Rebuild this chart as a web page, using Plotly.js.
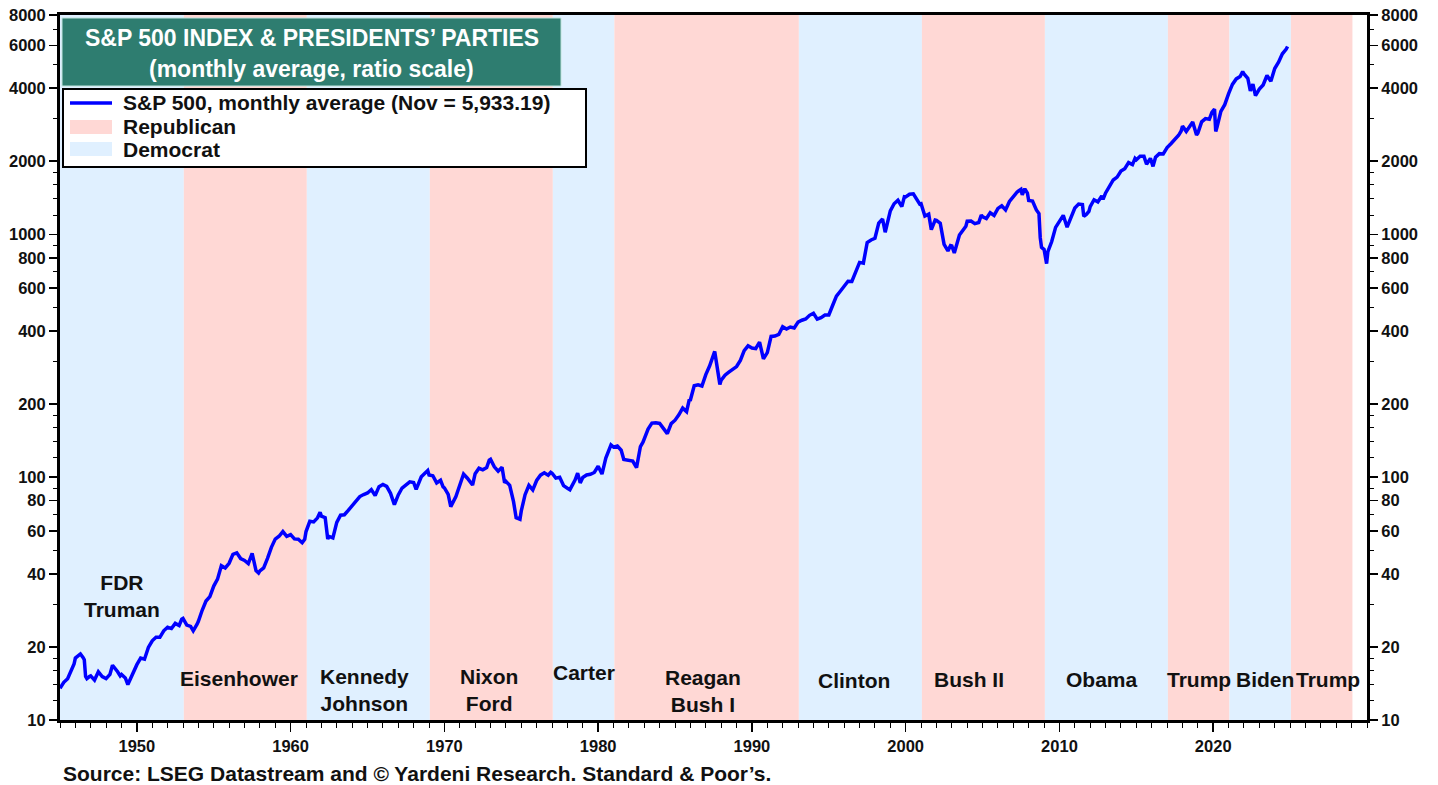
<!DOCTYPE html>
<html><head><meta charset="utf-8">
<script src="https://cdn.plot.ly/plotly-3.0.1.min.js"></script>
<style>html,body{margin:0;padding:0;background:#fff}#chart{width:1438px;height:785px}</style>
</head><body><div id="chart"></div><script>
// ---- DATA ----
const months = [
'1945-01','1945-04','1945-07','1945-10','1945-12',
'1946-01','1946-05','1946-07','1946-08','1946-09','1946-10','1946-12',
'1947-01','1947-04','1947-07','1947-10',
'1948-01','1948-04','1948-06','1948-10','1948-12',
'1949-01','1949-04','1949-06','1949-10','1949-12',
'1950-01','1950-04','1950-07','1950-10',
'1951-01','1951-04','1951-07','1951-10',
'1952-01','1952-04','1952-07','1952-10','1952-12',
'1953-01','1953-04','1953-07','1953-09','1953-12',
'1954-01','1954-04','1954-07','1954-10','1954-12',
'1955-01','1955-04','1955-07','1955-10',
'1956-01','1956-04','1956-07','1956-10',
'1957-01','1957-04','1957-07','1957-10','1957-12',
'1958-01','1958-04','1958-07','1958-10',
'1959-01','1959-04','1959-07','1959-10',
'1960-01','1960-04','1960-07','1960-10','1960-12',
'1961-01','1961-04','1961-07','1961-10','1961-12',
'1962-01','1962-04','1962-06','1962-07','1962-10','1962-12',
'1963-01','1963-04','1963-07','1963-10',
'1964-01','1964-04','1964-07','1964-10',
'1965-01','1965-04','1965-07','1965-10',
'1966-01','1966-04','1966-07','1966-10',
'1967-01','1967-04','1967-07','1967-10',
'1968-01','1968-03','1968-07','1968-10','1968-12',
'1969-01','1969-04','1969-07','1969-10','1969-12',
'1970-01','1970-04','1970-06','1970-10','1970-12',
'1971-01','1971-04','1971-07','1971-11',
'1972-01','1972-04','1972-07','1972-10','1972-12',
'1973-01','1973-04','1973-07','1973-10','1973-12',
'1974-01','1974-04','1974-07','1974-09','1974-12',
'1975-01','1975-04','1975-07','1975-10',
'1976-01','1976-04','1976-07','1976-10','1976-12',
'1977-01','1977-04','1977-07','1977-10',
'1978-01','1978-03','1978-07','1978-09','1978-11',
'1979-01','1979-04','1979-07','1979-10',
'1980-01','1980-04','1980-07','1980-11',
'1981-01','1981-04','1981-07','1981-09',
'1982-01','1982-04','1982-07','1982-10','1982-12',
'1983-01','1983-04','1983-07','1983-10',
'1984-01','1984-04','1984-07','1984-10',
'1985-01','1985-04','1985-07','1985-10','1985-12',
'1986-01','1986-04','1986-07','1986-10',
'1987-01','1987-04','1987-08','1987-10','1987-12',
'1988-01','1988-04','1988-07','1988-10',
'1989-01','1989-04','1989-07','1989-10',
'1990-01','1990-04','1990-07','1990-10',
'1991-01','1991-04','1991-07','1991-10',
'1992-01','1992-04','1992-07','1992-10',
'1993-01','1993-04','1993-07','1993-10',
'1994-01','1994-04','1994-07','1994-10',
'1995-01','1995-04','1995-07','1995-10',
'1996-01','1996-04','1996-07','1996-10',
'1997-01','1997-04','1997-07','1997-10',
'1998-01','1998-04','1998-07','1998-09','1998-12',
'1999-01','1999-04','1999-07','1999-10','1999-12',
'2000-01','2000-04','2000-07','2000-10','2000-12',
'2001-01','2001-04','2001-07','2001-09','2001-12',
'2002-01','2002-04','2002-07','2002-10','2002-12',
'2003-01','2003-03','2003-07','2003-10','2003-12',
'2004-01','2004-04','2004-07','2004-10','2004-12',
'2005-01','2005-04','2005-07','2005-10','2005-12',
'2006-01','2006-04','2006-07','2006-10',
'2007-01','2007-04','2007-07','2007-08','2007-10','2007-12',
'2008-01','2008-04','2008-07','2008-09','2008-10','2008-11',
'2009-01','2009-03','2009-04','2009-07','2009-10','2009-12',
'2010-01','2010-04','2010-07','2010-10','2010-12',
'2011-01','2011-04','2011-07','2011-08','2011-10','2011-12',
'2012-01','2012-04','2012-07','2012-10','2012-11',
'2013-01','2013-04','2013-07','2013-10','2013-12',
'2014-01','2014-04','2014-07','2014-10','2014-12',
'2015-01','2015-04','2015-07','2015-09','2015-12',
'2016-02','2016-04','2016-07','2016-10','2016-12',
'2017-01','2017-04','2017-07','2017-10','2017-12',
'2018-01','2018-04','2018-07','2018-09','2018-12',
'2019-01','2019-04','2019-07','2019-10','2019-12',
'2020-02','2020-03','2020-04','2020-07','2020-10','2020-12',
'2021-01','2021-04','2021-07','2021-10','2021-12',
'2022-01','2022-04','2022-06','2022-08','2022-10','2022-12',
'2023-01','2023-04','2023-07','2023-10','2023-12',
'2024-01','2024-04','2024-07','2024-10','2024-11'
];
const sp500 = [
13.5,14.3,14.8,16.0,17.0,
18.0,18.7,18.1,17.7,15.1,14.8,15.1,
15.2,14.6,15.8,15.1,
14.8,15.4,16.8,15.8,15.2,
15.4,14.9,14.0,15.7,16.5,
16.9,18.0,17.8,19.9,
21.2,21.9,21.9,23.3,
24.1,23.8,25.0,24.5,26.0,
26.2,24.6,24.3,23.3,24.8,
25.5,28.3,30.9,32.2,34.9,
35.6,38.0,43.2,42.3,
44.2,48.1,48.8,46.2,
45.4,44.1,48.5,41.2,40.3,
41.1,42.3,46.3,51.4,
55.6,57.1,59.7,57.0,
58.0,55.7,55.5,53.7,55.5,
59.7,65.8,65.4,68.0,71.7,
69.1,68.1,55.6,57.0,56.2,62.6,
65.1,69.7,70.0,73.0,
76.5,79.5,83.2,84.8,
86.1,88.9,84.1,91.4,
93.3,91.6,85.8,77.1,
84.5,90.2,93.0,95.7,
95.0,89.1,100.3,103.8,106.5,
102.0,101.3,94.7,97.1,91.1,
90.3,85.0,75.6,83.2,90.1,
93.5,103.0,99.0,92.8,
103.3,108.8,107.2,109.6,117.5,
118.4,110.3,105.8,109.8,94.8,
96.1,92.5,79.3,68.1,67.1,
72.6,84.7,92.5,88.6,
96.9,101.9,104.2,101.9,104.7,
103.8,99.1,99.9,92.3,
90.1,88.8,97.2,103.9,94.7,
99.7,102.1,102.7,104.5,
110.9,103.0,119.8,135.7,
133.0,134.4,129.1,118.3,
117.3,116.4,109.4,133.7,139.4,
144.3,157.7,167.0,167.6,
166.4,157.4,151.1,166.1,
171.6,180.6,192.5,186.2,207.3,
208.2,238.0,240.2,237.4,
264.5,286.8,329.4,280.2,241.0,
250.5,263.0,270.7,279.4,
285.4,302.3,331.9,347.4,
340.0,338.2,360.0,307.1,
325.5,379.7,380.9,386.9,
416.1,407.4,415.1,411.7,
435.2,442.7,448.1,463.9,
473.0,447.2,453.9,465.0,
465.3,509.2,556.8,582.9,
614.4,641.0,640.0,701.5,
766.2,761.1,925.3,947.3,
963.4,1112.2,1156.6,1020.0,1190.0,
1248.8,1335.6,1381.0,1300.0,1428.0,
1425.6,1461.4,1468.4,1390.1,1330.0,
1335.6,1189.8,1211.2,1044.6,1144.0,
1140.2,1111.6,909.9,854.6,899.0,
895.8,837.6,993.3,1038.7,1080.0,
1132.5,1134.1,1105.8,1118.1,1199.0,
1181.4,1162.4,1227.0,1196.7,1258.0,
1278.7,1310.6,1260.2,1365.6,
1424.2,1494.1,1530.6,1455.0,1539.7,1479.0,
1378.8,1370.5,1260.2,1217.0,968.8,883.0,
865.6,757.1,848.2,934.1,1067.7,1110.0,
1123.6,1197.3,1070.0,1171.6,1241.0,
1282.6,1331.5,1325.2,1185.0,1207.2,1243.0,
1300.6,1387.6,1359.8,1437.8,1394.0,
1480.4,1572.9,1674.0,1720.0,1807.0,
1822.4,1864.3,1973.1,1937.3,2054.0,
2028.2,2094.9,2094.1,1944.0,2054.0,
1904.0,2075.5,2148.9,2143.0,2246.0,
2275.1,2359.3,2454.1,2557.0,2664.0,
2789.8,2653.6,2793.6,2901.0,2567.0,
2607.4,2903.8,2996.1,2977.7,3176.0,
3277.0,2652.4,2762.0,3207.6,3418.7,3695.0,
3793.7,4141.2,4363.7,4460.7,4674.0,
4573.8,4391.3,3898.9,4158.0,3726.1,3912.0,
3960.7,4121.5,4508.1,4269.4,4685.0,
4815.6,5112.5,5538.0,5792.3,5933.19
];
const termStarts = ['1945-01-01','1953-01-20','1961-01-20','1969-01-20','1977-01-20','1981-01-20','1993-01-20','2001-01-20','2009-01-20','2017-01-20','2021-01-20','2025-01-20'];
const termEnds   = ['1953-01-20','1961-01-20','1969-01-20','1977-01-20','1981-01-20','1993-01-20','2001-01-20','2009-01-20','2017-01-20','2021-01-20','2025-01-20','2029-01-20'];
const termParty  = ['D','R','D','R','D','R','D','R','D','R','D','R'];
const presidentLabels = ['FDR<br>Truman','Eisenhower','Kennedy<br>Johnson','Nixon<br>Ford','Carter','Reagan<br>Bush I','Clinton','Bush II','Obama','Trump','Biden','Trump'];
const xTickVals = ['1950-01-01','1960-01-01','1970-01-01','1980-01-01','1990-01-01','2000-01-01','2010-01-01','2020-01-01'];
const xTickText = ['1950','1960','1970','1980','1990','2000','2010','2020'];
const yTickVals = [10,20,40,60,80,100,200,400,600,800,1000,2000,4000,6000,8000];
const yTickText = ['10','20','40','60','80','100','200','400','600','800','1000','2000','4000','6000','8000'];
const yMinorVals = [12,14,16,18,30,50,70,90,120,140,160,180,300,500,700,900,1200,1400,1600,1800,3000,5000,7000];
const seriesName = 'S&P 500, monthly average (Nov = 5,933.19)';
const legendNames = [seriesName, 'Republican', 'Democrat'];

// ---- STYLE ----
const FONT = 'Liberation Sans, Arial, sans-serif';
const REP = '#FFD8D5';
const DEM = '#E0F0FF';
const LINE = '#0000FF';
const labelYpx = [596,678,690,690,672,691,680,679,679,679,679,679];
const labelShift = [0,-6,-4,-2,0,-4,-6,-14,-4,0,5,6];
const plotTop = 15, plotBottom = 720, plotLeft = 60, plotRight = 1367;
const pY = px => (plotBottom - px) / (plotBottom - plotTop);
const pX = px => (px - plotLeft) / (plotRight - plotLeft);

function midDate(a, b) {
  const t = (new Date(a).getTime() + new Date(b).getTime()) / 2;
  return new Date(t).toISOString().slice(0, 10);
}

const shapes = termStarts.map((s, i) => ({
  type: 'rect', xref: 'x', yref: 'paper', x0: s, x1: termEnds[i], y0: 0, y1: 1,
  fillcolor: termParty[i] === 'R' ? REP : DEM, line: {width: 0}, layer: 'below'
}));
// title box
shapes.push({type:'rect', xref:'paper', yref:'paper', x0:pX(62), x1:pX(561), y0:pY(86), y1:pY(18),
  fillcolor:'#2E7D70', line:{color:'#BFE3DC', width:1}, layer:'above'});
// legend box and swatches
shapes.push({type:'rect', xref:'paper', yref:'paper', x0:pX(63), x1:pX(586), y0:pY(167), y1:pY(89),
  fillcolor:'#fff', line:{color:'#000', width:2}, layer:'above'});
shapes.push({type:'line', xref:'paper', yref:'paper', x0:pX(70), x1:pX(112), y0:pY(103), y1:pY(103),
  line:{color:LINE, width:3.5}, layer:'above'});
shapes.push({type:'rect', xref:'paper', yref:'paper', x0:pX(70), x1:pX(112), y0:pY(134), y1:pY(120),
  fillcolor:REP, line:{width:0}, layer:'above'});
shapes.push({type:'rect', xref:'paper', yref:'paper', x0:pX(70), x1:pX(112), y0:pY(156), y1:pY(142),
  fillcolor:DEM, line:{width:0}, layer:'above'});

const annotations = presidentLabels.map((t, i) => ({
  text: t, x: midDate(termStarts[i], termEnds[i]), xref: 'x', y: pY(labelYpx[i]), yref: 'paper',
  xanchor: 'center', yanchor: 'middle', showarrow: false, xshift: labelShift[i],
  font: {family: FONT, size: 21, color: '#111', weight: 'bold'}
}));
const legendRowY = [103, 126, 149];
legendNames.forEach((n, i) => annotations.push({text: n, xref:'paper', yref:'paper',
  x:pX(121), y:pY(legendRowY[i]), xanchor:'left', yanchor:'middle', showarrow:false,
  font:{family:FONT, size:21, color:'#111', weight:'bold'}}));
annotations.push({text:'S&P 500 INDEX & PRESIDENTS\u2019 PARTIES', xref:'paper', yref:'paper',
  x:pX(311.5), y:pY(38), xanchor:'center', yanchor:'middle', showarrow:false,
  font:{family:FONT, size:23, color:'#fff', weight:'bold'}});
annotations.push({text:'(monthly average, ratio scale)', xref:'paper', yref:'paper',
  x:pX(311.5), y:pY(69), xanchor:'center', yanchor:'middle', showarrow:false,
  font:{family:FONT, size:23, color:'#fff', weight:'bold'}});
annotations.push({text:'Source: LSEG Datastream and \u00a9 Yardeni Research. Standard & Poor\u2019s.', xref:'paper', yref:'paper',
  x:pX(61), y:pY(773), xanchor:'left', yanchor:'middle', showarrow:false,
  font:{family:FONT, size:21, color:'#111', weight:'bold'}});

const traces = [
  {x: months, y: sp500, type: 'scatter', mode: 'lines', name: seriesName,
   line: {color: LINE, width: 3.5}},
  {x: [null], y: [null], type: 'scatter', mode: 'lines', yaxis: 'y2', showlegend: false, hoverinfo: 'skip'}
];

const tickFont = {family: FONT, size: 16.5, color: '#111', weight: 'bold'};
const yCommon = {
  type: 'log', range: [1, Math.log10(8000)], tickmode: 'array', tickvals: yTickVals, ticktext: yTickText,
  ticks: 'outside', ticklen: 8, tickwidth: 1.5, tickcolor: '#000', showgrid: false, zeroline: false,
  showline: true, linecolor: '#000', linewidth: 3, tickfont: tickFont, fixedrange: true,
  minor: {tickmode: 'array', tickvals: yMinorVals, ticks: 'outside', ticklen: 4, tickwidth: 1, tickcolor: '#000', showgrid: false}
};

const layout = {
  width: 1438, height: 785,
  margin: {l: plotLeft, r: 1438 - plotRight, t: plotTop, b: 785 - plotBottom, pad: 0},
  paper_bgcolor: '#fff', plot_bgcolor: '#fff',
  font: {family: FONT, color: '#111'},
  showlegend: false,
  xaxis: {type: 'date', range: ['1945-01-01', '2030-01-01'], tickmode: 'array', tickvals: xTickVals, ticktext: xTickText,
    ticks: 'outside', ticklen: 9, tickwidth: 1.5, tickcolor: '#000',
    showline: true, mirror: true, linecolor: '#000', linewidth: 3, showgrid: false, zeroline: false,
    tickfont: tickFont, fixedrange: true,
    minor: {tick0: '1945-01-01', dtick: 'M12', ticks: 'outside', ticklen: 5, tickwidth: 1, tickcolor: '#000', showgrid: false}},
  yaxis: Object.assign({}, yCommon, {side: 'left'}),
  yaxis2: Object.assign({}, yCommon, {side: 'right', overlaying: 'y'}),
  shapes: shapes,
  annotations: annotations
};

Plotly.newPlot('chart', traces, layout, {displayModeBar: false, staticPlot: true});
</script></body></html>
